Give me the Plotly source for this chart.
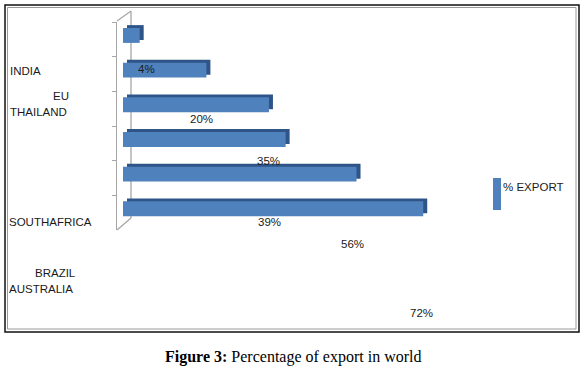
import plotly.graph_objects as go

# ---- data ----
countries = ["INDIA", "EU", "THAILAND", "SOUTHAFRICA", "BRAZIL", "AUSTRALIA"]
export_pct = [4, 20, 35, 39, 56, 72]
value_labels = ["4%", "20%", "35%", "39%", "56%", "72%"]
series_name = "% EXPORT"
caption_bold = "Figure 3:"
caption_rest = " Percentage of export in world"

# ---- layout geometry (pixels) ----
W, H = 586, 373
L, R = 117, 480          # plot area left/right
T, B = 22, 230           # plot area top/bottom
K = 4.17                 # px per percent
DEPTH_PX = 4             # 3D depth shift to the right
x0 = -(123 - L) / K
x1 = x0 + (R - L) / K


def px(x):
    return (x - L) / (R - L)


def py(y):
    return (B - y) / (B - T)


blue = "#4F81BD"
dark = "#2F5488"
axis_grey = "#A6A6A6"
txt = "#1a1a1a"
font = dict(family="Liberation Sans, Arial, sans-serif", size=11.5, color=txt)

fig = go.Figure()
# depth (3D top/side face) drawn on the shifted base axis
fig.add_trace(go.Bar(
    y=countries, x=export_pct, orientation="h", xaxis="x",
    offset=-0.41, width=0.43,
    marker=dict(color=dark, line=dict(width=0)),
    showlegend=False, hoverinfo="skip"))
# front face on the overlaying (true-scale) axis, drawn on top
fig.add_trace(go.Bar(
    y=countries, x=export_pct, orientation="h", xaxis="x2",
    offset=-0.327, width=0.43,
    marker=dict(color=blue, line=dict(width=0)),
    name=series_name, showlegend=False))

annotations = []
# category labels (misplaced as in the reference)
cat_pos = [(8, 71), (51, 96), (8, 112), (7, 222), (33, 273), (7, 289)]
for name, (cx, cy) in zip(countries, cat_pos):
    annotations.append(dict(x=px(cx), y=py(cy), xref="paper", yref="paper",
                            text=name, showarrow=False, xanchor="left",
                            yanchor="middle", font=font))
# value labels
val_pos = [(146, 69), (201, 119), (268, 161), (269, 222), (352, 244), (421, 313)]
for lab, (cx, cy) in zip(value_labels, val_pos):
    annotations.append(dict(x=px(cx), y=py(cy), xref="paper", yref="paper",
                            text=lab, showarrow=False, xanchor="center",
                            yanchor="middle", font=font))
# legend text
annotations.append(dict(x=px(501), y=py(187), xref="paper", yref="paper",
                        text=series_name, showarrow=False, xanchor="left",
                        yanchor="middle", font=font))
# caption
annotations.append(dict(x=px(293), y=py(357), xref="paper", yref="paper",
                        text="<b>" + caption_bold + "</b>" + caption_rest,
                        showarrow=False, xanchor="center", yanchor="middle",
                        font=dict(family="Liberation Serif, Times New Roman, serif",
                                  size=16, color="#000")))

shapes = []
# outer frame (double line)
shapes.append(dict(type="rect", xref="paper", yref="paper",
                   x0=px(5), x1=px(579), y0=py(5), y1=py(332),
                   line=dict(color="#111", width=1.5)))
shapes.append(dict(type="rect", xref="paper", yref="paper",
                   x0=px(7.5), x1=px(576), y0=py(7.5), y1=py(329),
                   line=dict(color="#9a9a9a", width=1)))
# 3D back wall lines (behind bars)
for (ax, ay, bx, by) in [(117, 21, 131, 11), (131, 11, 131, 218), (117, 230, 131, 218)]:
    shapes.append(dict(type="line", xref="paper", yref="paper", layer="below",
                       x0=px(ax), y0=py(ay), x1=px(bx), y1=py(by),
                       line=dict(color=axis_grey, width=1.3)))
# legend key
shapes.append(dict(type="rect", xref="paper", yref="paper",
                   x0=px(493), x1=px(501), y0=py(178), y1=py(210),
                   fillcolor=blue, line=dict(width=0)))

shift = DEPTH_PX / K
fig.update_layout(
    width=W, height=H,
    margin=dict(l=L, r=W - R, t=T, b=H - B, pad=0),
    paper_bgcolor="white", plot_bgcolor="rgba(0,0,0,0)",
    barmode="overlay", showlegend=False,
    xaxis=dict(range=[x0 - shift, x1 - shift], visible=False, fixedrange=True),
    xaxis2=dict(range=[x0, x1], visible=False, overlaying="x", fixedrange=True),
    yaxis=dict(type="category", categoryorder="array", categoryarray=countries,
               range=[5.5, -0.5], showticklabels=False, showgrid=False,
               zeroline=False, showline=True, linecolor=axis_grey, linewidth=1.3,
               ticks="outside", tickson="boundaries", ticklen=4,
               tickcolor=axis_grey, tickwidth=1),
    annotations=annotations, shapes=shapes,
)

fig.write_html("out.html", config={"displayModeBar": False},
               post_script="document.body.style.margin='0';document.body.style.padding='0';")
